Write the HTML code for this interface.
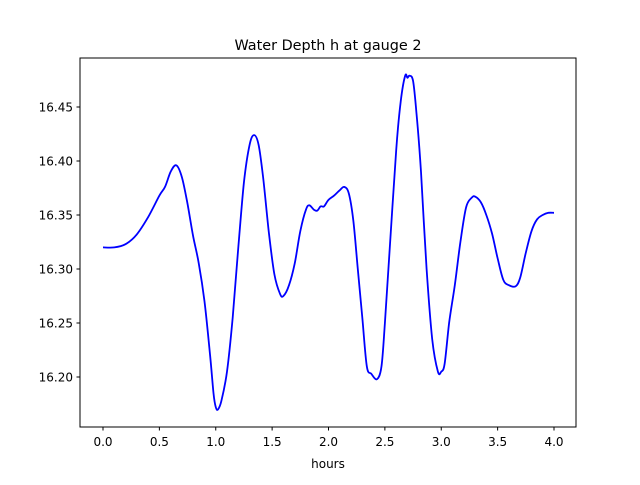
<!DOCTYPE html>
<html><head><meta charset="utf-8"><style>
body{margin:0;background:#fff;width:640px;height:480px;overflow:hidden}
text{font-family:"DejaVu Sans","Liberation Sans",sans-serif;fill:#000}
</style></head><body>
<svg id="chart" width="640" height="480" xmlns="http://www.w3.org/2000/svg">
<rect width="640" height="480" fill="#fff"/>
<text x="328" y="50" font-size="14.4" text-anchor="middle">Water Depth h at gauge 2</text>
<text x="328" y="468" font-size="12" text-anchor="middle">hours</text>
<g id="ticks"></g>
<path id="series" fill="none" stroke="#0000ff" stroke-width="1.8" stroke-linejoin="round"/>
<rect x="80" y="58" width="496" height="369" fill="none" stroke="#000" stroke-width="1"/>
</svg>
<script>
const hours=[0,0.1,0.2,0.3,0.4,0.5,0.55,0.6,0.65,0.7,0.75,0.8,0.85,0.9,0.95,0.98,1.0,1.02,1.05,1.1,1.15,1.2,1.25,1.3,1.34,1.38,1.42,1.47,1.52,1.57,1.6,1.65,1.7,1.75,1.8,1.83,1.87,1.9,1.93,1.96,2.0,2.05,2.1,2.14,2.18,2.22,2.26,2.3,2.34,2.38,2.43,2.47,2.5,2.55,2.6,2.64,2.68,2.7,2.72,2.75,2.78,2.82,2.87,2.92,2.97,3.0,3.03,3.07,3.12,3.17,3.22,3.27,3.3,3.35,3.4,3.45,3.5,3.55,3.6,3.66,3.7,3.75,3.8,3.85,3.9,3.95,4.0];
const depth=[16.320,16.320,16.323,16.332,16.348,16.368,16.376,16.390,16.396,16.385,16.360,16.330,16.305,16.270,16.22,16.185,16.172,16.170,16.178,16.205,16.255,16.320,16.380,16.415,16.424,16.415,16.385,16.335,16.295,16.277,16.275,16.285,16.305,16.335,16.355,16.359,16.355,16.354,16.358,16.358,16.364,16.368,16.373,16.376,16.370,16.345,16.300,16.255,16.210,16.203,16.198,16.210,16.250,16.330,16.410,16.455,16.479,16.477,16.479,16.474,16.445,16.390,16.300,16.235,16.205,16.205,16.212,16.250,16.285,16.325,16.357,16.366,16.367,16.362,16.350,16.333,16.310,16.290,16.285,16.284,16.292,16.315,16.335,16.346,16.350,16.352,16.352];
const xTicks=[0,0.5,1,1.5,2,2.5,3,3.5,4];
const xTickLabels=["0.0","0.5","1.0","1.5","2.0","2.5","3.0","3.5","4.0"];
const yTicks=[16.20,16.25,16.30,16.35,16.40,16.45];
const yTickLabels=["16.20","16.25","16.30","16.35","16.40","16.45"];
const sx=t=>103+t*112.75;
const sy=h=>107+(16.45-h)*1080;
const NS="http://www.w3.org/2000/svg";
const g=document.getElementById('ticks');
xTicks.forEach((t,i)=>{
 const l=document.createElementNS(NS,'line');
 
 
 l.setAttribute('x1',sx(t));l.setAttribute('x2',sx(t));l.setAttribute('y1',427);l.setAttribute('y2',430.5);l.setAttribute('stroke','#000');
 g.appendChild(l);
 const tx=document.createElementNS(NS,'text');
 
 
 tx.setAttribute('x',sx(t));tx.setAttribute('y',446);tx.setAttribute('font-size','12');tx.setAttribute('text-anchor','middle');
 tx.textContent=xTickLabels[i];g.appendChild(tx);
});
yTicks.forEach((h,i)=>{
 const l=document.createElementNS(NS,'line');
 
 
 l.setAttribute('x1',76.5);l.setAttribute('x2',80);l.setAttribute('y1',sy(h));l.setAttribute('y2',sy(h));l.setAttribute('stroke','#000');
 g.appendChild(l);
 const tx=document.createElementNS(NS,'text');
 
 
 tx.setAttribute('x',73);tx.setAttribute('y',sy(h)+4.5);tx.setAttribute('font-size','12');tx.setAttribute('text-anchor','end');
 tx.textContent=yTickLabels[i];g.appendChild(tx);
});
const P=hours.map((t,i)=>[sx(t),sy(depth[i])]);
let d='M'+P[0][0].toFixed(1)+','+P[0][1].toFixed(1);
for(let i=0;i<P.length-1;i++){
 const p0=P[Math.max(0,i-1)],p1=P[i],p2=P[i+1],p3=P[Math.min(P.length-1,i+2)];
 const c1x=p1[0]+(p2[0]-p0[0])/6,c1y=p1[1]+(p2[1]-p0[1])/6;
 const c2x=p2[0]-(p3[0]-p1[0])/6,c2y=p2[1]-(p3[1]-p1[1])/6;
 d+=' C'+c1x.toFixed(1)+','+c1y.toFixed(1)+' '+c2x.toFixed(1)+','+c2y.toFixed(1)+' '+p2[0].toFixed(1)+','+p2[1].toFixed(1);
}
document.getElementById('series').setAttribute('d',d);
</script>
</body></html>
